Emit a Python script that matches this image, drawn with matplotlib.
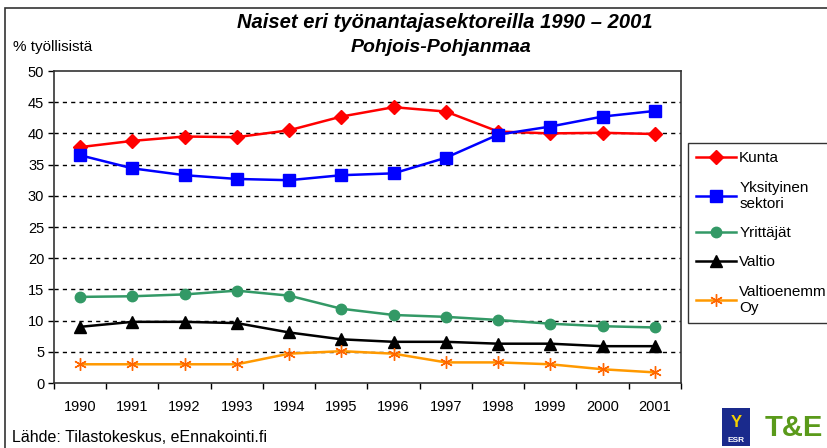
import matplotlib
matplotlib.use("Agg")
import matplotlib.pyplot as plt
from matplotlib.patches import Rectangle

plt.rcParams['font.family'] = ['Liberation Sans', 'DejaVu Sans']

years = ["1990", "1991", "1992", "1993", "1994", "1995", "1996", "1997", "1998", "1999", "2000", "2001"]
kunta = [37.8, 38.8, 39.5, 39.4, 40.5, 42.7, 44.2, 43.5, 40.3, 40.0, 40.1, 39.9]
yksityinen = [36.5, 34.4, 33.3, 32.7, 32.5, 33.3, 33.6, 36.1, 39.8, 41.1, 42.7, 43.6]
yrittajat = [13.8, 13.9, 14.2, 14.8, 14.0, 11.9, 10.9, 10.6, 10.1, 9.5, 9.1, 8.9]
valtio = [9.0, 9.8, 9.8, 9.6, 8.1, 7.0, 6.6, 6.6, 6.3, 6.3, 5.9, 5.9]
valtioenemm = [3.0, 3.0, 3.0, 3.0, 4.7, 5.1, 4.7, 3.3, 3.3, 3.0, 2.2, 1.7]
yticks = [0, 5, 10, 15, 20, 25, 30, 35, 40, 45, 50]

fig = plt.figure(figsize=(8.28, 4.48), dpi=100)
ax = fig.add_axes([54/828, 1-383/448, (681-54)/828, (383-71)/448])

x = list(range(len(years)))
l1, = ax.plot(x, kunta, color='#FF0000', lw=1.8, marker='D', ms=7, mfc='#FF0000', mec='#FF0000', label='Kunta', zorder=5)
l2, = ax.plot(x, yksityinen, color='#0000FF', lw=1.8, marker='s', ms=8.5, mfc='#0000FF', mec='#0000FF', label='Yksityinen\nsektori', zorder=5)
l3, = ax.plot(x, yrittajat, color='#339966', lw=1.8, marker='o', ms=7.5, mfc='#339966', mec='#339966', label='Yrittäjät', zorder=5)
l4, = ax.plot(x, valtio, color='#000000', lw=1.8, marker='^', ms=8.5, mfc='#000000', mec='#000000', label='Valtio', zorder=5)
l5, = ax.plot(x, valtioenemm, color='#FF9900', lw=1.8, marker=(6, 2, 0), ms=9, mec='#FF6600', mew=1.0, label='Valtioenemm\nOy', zorder=5)

ax.set_xlim(-0.5, len(years) - 0.5)
ax.set_ylim(0, 50)
ax.set_yticks(yticks)
ax.set_yticklabels([str(v) for v in yticks], fontsize=10.5)
ax.set_xticks(x)
ax.set_xticklabels(years, fontsize=10.5)
ax.set_xticks([i - 0.5 for i in range(len(years) + 1)], minor=True)
ax.tick_params(axis='x', which='major', length=0, pad=12)
ax.tick_params(axis='x', which='minor', length=4, direction='out', width=1)
ax.tick_params(axis='y', length=4, direction='out', width=1, pad=3)
for v in yticks[1:-1]:
    ax.axhline(v, color='black', lw=1, ls=(0, (3, 3)), zorder=1)
for s in ax.spines.values():
    s.set_linewidth(1.2)
    s.set_color('#333333')

leg = fig.legend(handles=[l1, l2, l3, l4, l5], loc='upper left',
                 bbox_to_anchor=(688/828, 1-143/448), fontsize=11,
                 frameon=True, fancybox=False, edgecolor='black',
                 handlelength=2.6, handletextpad=0.2, labelspacing=1.0,
                 borderpad=0.55, borderaxespad=0)
leg.get_frame().set_linewidth(1.0)

fig.text(445/828, 1-22/448, 'Naiset eri työnantajasektoreilla 1990 – 2001', ha='center', va='center',
         fontsize=14.5, fontweight='bold', style='italic')
fig.text(441/828, 1-47/448, 'Pohjois-Pohjanmaa', ha='center', va='center',
         fontsize=14, fontweight='bold', style='italic')
fig.text(13/828, 1-47/448, '% työllisistä', ha='left', va='center', fontsize=11)
fig.text(12/828, 1-437/448, 'Lähde: Tilastokeskus, eEnnakointi.fi', ha='left', va='center', fontsize=11.5)

# outer frame
fig.patches.append(Rectangle((5/828, -0.1), 1.2, 1 - 8/448 + 0.1, transform=fig.transFigure,
                             fill=False, edgecolor='#333333', lw=1.2))

# logos (approximate)
fig.patches.append(Rectangle((722/828, 1-446/448), 28/828, 38/448, transform=fig.transFigure,
                             facecolor='#1a2a8c', edgecolor='none'))
fig.text(736/828, 1-440/448, 'ESR', ha='center', va='center', fontsize=6, color='white', fontweight='bold')
fig.text(736/828, 1-422/448, 'Y', ha='center', va='center', fontsize=12, color='#f5d000', fontweight='bold')
fig.text(794/828, 1-428/448, 'T&E', ha='center', va='center', fontsize=21, color='#5a9a1a', fontweight='bold')

fig.savefig('out.png', dpi=100)
